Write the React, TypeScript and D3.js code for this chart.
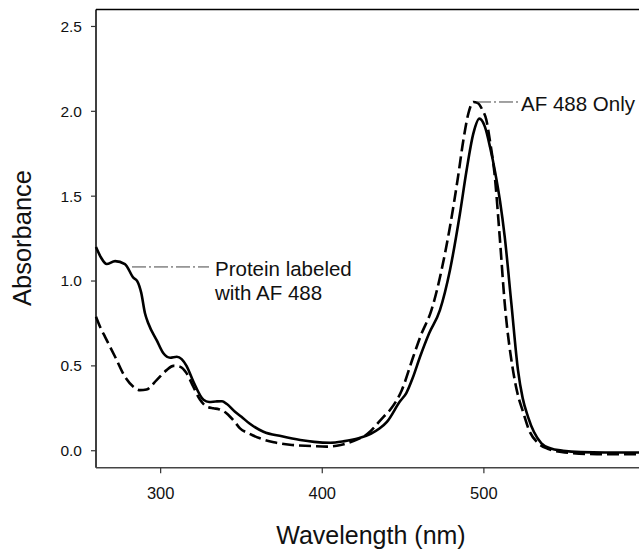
import React from "react";
import * as d3 from "d3";

const xTicks = [300, 400, 500];
const yTicks = [0, 0.5, 1.0, 1.5, 2.0, 2.5];

const proteinWl = [260, 263, 266.6, 271.8, 277.9, 283.1, 285.5, 288, 290.3, 292.4, 297.6, 301.7, 305.9, 310, 313, 316, 320.3, 326.5, 330, 334, 338, 341, 346, 350, 355, 363.6, 375, 386.4, 395, 404.8, 413, 422.5, 430, 435.6, 440, 448, 452, 456, 460.5, 466, 472.8, 479, 485.2, 489.3, 493.5, 497.2, 500.6, 503.8, 507, 510, 512.9, 517, 521.1, 524, 527.3, 531, 535.6, 541, 549, 560, 575, 600];
const proteinAbs = [1.2, 1.14, 1.1, 1.117, 1.1, 1.02, 1.0, 0.93, 0.81, 0.75, 0.65, 0.574, 0.548, 0.554, 0.54, 0.5, 0.406, 0.3, 0.287, 0.29, 0.292, 0.275, 0.23, 0.2, 0.16, 0.112, 0.085, 0.063, 0.052, 0.047, 0.055, 0.073, 0.1, 0.132, 0.17, 0.29, 0.34, 0.43, 0.554, 0.69, 0.829, 1.064, 1.398, 1.653, 1.87, 1.957, 1.91, 1.79, 1.64, 1.47, 1.26, 0.868, 0.475, 0.31, 0.2, 0.11, 0.044, 0.015, 0.0, -0.008, -0.01, -0.01];

const afWl = [260, 262.5, 265.6, 271.8, 277.9, 283.1, 287.2, 291.3, 297.5, 303.7, 307.8, 311.9, 316.1, 320.2, 324.4, 328.5, 332.6, 336, 340.9, 345, 349.1, 355, 361.5, 370, 380, 393.7, 402.5, 411.4, 420, 428, 437.9, 441.9, 449.2, 456.3, 461, 467.6, 473.8, 479, 484, 487.3, 490.4, 493.5, 496, 499, 501.5, 504, 506.5, 509.8, 512.9, 518, 521, 524.2, 528, 533, 540, 550, 570, 600];
const afAbs = [0.789, 0.73, 0.671, 0.554, 0.436, 0.377, 0.357, 0.361, 0.416, 0.475, 0.5, 0.495, 0.456, 0.377, 0.3, 0.26, 0.25, 0.245, 0.22, 0.18, 0.132, 0.1, 0.073, 0.05, 0.035, 0.028, 0.024, 0.034, 0.06, 0.1, 0.2, 0.24, 0.357, 0.554, 0.68, 0.83, 1.064, 1.319, 1.614, 1.83, 1.987, 2.055, 2.05, 2.01, 1.95, 1.81, 1.64, 1.26, 0.868, 0.475, 0.33, 0.23, 0.12, 0.05, 0.01, -0.01, -0.02, -0.02];

const labelProtein = ["Protein labeled", "with AF 488"];
const labelAF = "AF 488 Only";

const W = 639;
const H = 550;
const FONT = "'Liberation Sans', Arial, Helvetica, sans-serif";

export default function App() {
  const left = 96;
  const right = 645.5;
  const top = 9.5;
  const bottom = 467.7;
  const x = d3.scaleLinear().domain([260, 600]).range([left, right]);
  const y = d3.scaleLinear().domain([-0.1, 2.6]).range([bottom, top]);

  const line = d3
    .line<[number, number]>()
    .x((d) => x(d[0]))
    .y((d) => y(d[1]))
    .curve(d3.curveMonotoneX);

  const protein = line(proteinWl.map((w, i) => [w, proteinAbs[i]] as [number, number])) || "";
  const af = line(afWl.map((w, i) => [w, afAbs[i]] as [number, number])) || "";

  const fmt = d3.format(".1f");

  const protLeaderY = y(1.083);
  const afLeaderY = y(2.055);

  return (
    <svg
      width={W}
      height={H}
      style={{ position: "absolute", left: 0, top: 0, background: "#fff" }}
      fontFamily={FONT}
    >
      <rect x={0} y={0} width={W} height={H} fill="#fff" />
      {/* frame */}
      <line x1={left} x2={right} y1={top} y2={top} stroke="#000" strokeWidth={1.3} />
      <line x1={left} x2={left} y1={top} y2={bottom} stroke="#000" strokeWidth={1.5} />
      <line x1={left} x2={right} y1={bottom} y2={bottom} stroke="#444" strokeWidth={1.5} />

      {/* y ticks */}
      {yTicks.map((t) => (
        <g key={"y" + t}>
          <line x1={left - 5} x2={left} y1={y(t)} y2={y(t)} stroke="#333" strokeWidth={1.2} />
          <text x={left - 14} y={y(t)} dy="0.35em" textAnchor="end" fontSize={15.5} fill="#111">
            {fmt(t)}
          </text>
        </g>
      ))}

      {/* x ticks */}
      {xTicks.map((t) => (
        <g key={"x" + t}>
          <line x1={x(t)} x2={x(t)} y1={bottom} y2={bottom + 5.5} stroke="#333" strokeWidth={1.2} />
          <text x={x(t)} y={498.5} textAnchor="middle" fontSize={16.5} fill="#111">
            {t}
          </text>
        </g>
      ))}

      {/* axis titles */}
      <text x={371} y={544} textAnchor="middle" fontSize={25} fill="#111">
        Wavelength (nm)
      </text>
      <text
        transform={`translate(31, 238) rotate(-90)`}
        textAnchor="middle"
        fontSize={25.5}
        fill="#111"
      >
        Absorbance
      </text>

      {/* curves */}
      <path d={af} fill="none" stroke="#000" strokeWidth={2.6} strokeDasharray="12,5" />
      <path d={protein} fill="none" stroke="#000" strokeWidth={2.6} />

      {/* annotations */}
      <line
        x1={132}
        x2={209}
        y1={protLeaderY}
        y2={protLeaderY}
        stroke="#444"
        strokeWidth={1}
        strokeDasharray="14,3,2,3"
      />
      <text x={215} fontSize={20.5} fill="#111">
        <tspan x={215} y={276}>{labelProtein[0]}</tspan>
        <tspan x={215} y={300}>{labelProtein[1]}</tspan>
      </text>
      <line
        x1={477}
        x2={518}
        y1={afLeaderY}
        y2={afLeaderY}
        stroke="#444"
        strokeWidth={1}
        strokeDasharray="14,3,2,3"
      />
      <text x={521} y={110.5} fontSize={20.5} fill="#111">
        {labelAF}
      </text>
    </svg>
  );
}
